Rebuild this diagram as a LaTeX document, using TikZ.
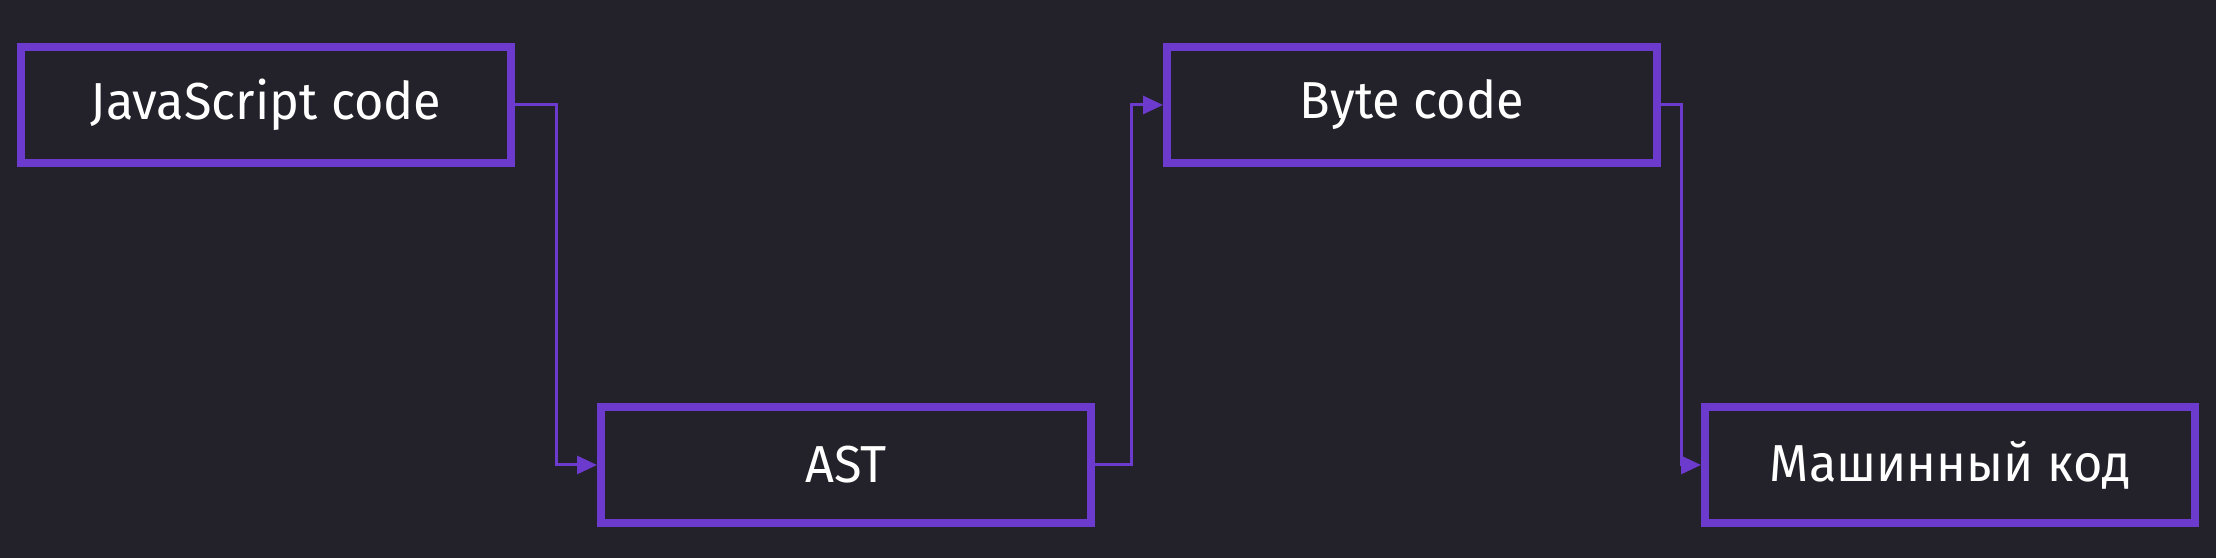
\documentclass[tikz,border=0pt]{standalone}
\usepackage{fontspec}
\setmainfont[FakeStretch=0.97]{Fira Sans}
\usepackage{xcolor}
\usepackage{tikz}
\usetikzlibrary{positioning,arrows.meta}
\definecolor{bg}{RGB}{35,33,41}
\definecolor{violet}{RGB}{108,59,206}

\begin{document}
\begin{tikzpicture}[font=\fontsize{14.8pt}{18pt}\selectfont,
		stagebox/.style={draw=violet, line width=0.08cm, fill=bg, text=white, minimum width=4.9cm, minimum height=1.16cm, inner sep=0pt},
		flow/.style={draw=violet, line width=0.03cm, -{Triangle[length=0.2cm,width=0.18cm]}}]
				\fill[bg] (0,0) rectangle (22.16,5.58);
				\useasboundingbox (0,0) rectangle (22.16,5.58);
				\node[stagebox] (js) at (2.66,4.53) {JavaScript code};
				\node[stagebox, below right=2.36cm and 0.82cm of js] (ast) {AST};
				\node[stagebox, above right=2.36cm and 0.68cm of ast] (byte) {Byte code};
				\node[stagebox, below right=2.36cm and 0.40cm of byte] (machine) {Машинный код};
				
				\draw[flow] (js.east) -- ++(0.41,0) |- (ast.west);
				\draw[flow] (ast.east) -- ++(0.36,0) |- (byte.west);
				\draw[flow] (byte.east) -- ++(0.20,0) |- (machine.west);
			\end{tikzpicture}
\end{document}
